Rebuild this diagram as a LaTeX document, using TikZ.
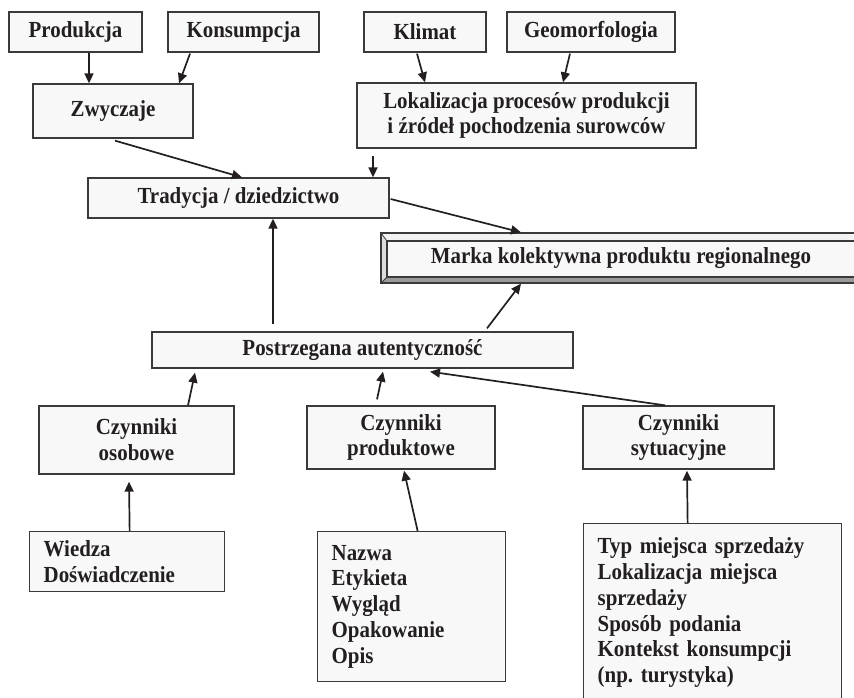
\documentclass[tikz,border=0pt]{standalone}
\usepackage{fontspec}
\setmainfont[FakeStretch=0.91]{Liberation Serif}
\usetikzlibrary{arrows.meta,calc}
\definecolor{ink}{HTML}{231F20}
\definecolor{boxline}{HTML}{3A3A3A}
\definecolor{boxfill}{HTML}{F8F8F8}
\definecolor{bevtop}{HTML}{F2F2F2}
\definecolor{bevside}{HTML}{DCDCDC}
\definecolor{bevdark}{HTML}{9A9A9A}
\frenchspacing
\tikzset{
  box/.style={draw=boxline, fill=boxfill, line width=1.3pt, inner sep=0pt, align=center, text=ink, font=\bfseries\fontsize{23}{25.8}\selectfont},
  lbox/.style={box, anchor=north west, align=left, inner xsep=14pt},
  arr/.style={-{Triangle[length=10pt,width=9pt]}, line width=1.7pt, draw=ink}
}
\begin{document}
\begin{tikzpicture}[x=1pt,y=-1pt]
    \useasboundingbox (0,0) rectangle (854,697);
    \filldraw[fill=bevside, draw=boxline, line width=1.1pt] (381,233) rectangle (861,283);
    \fill[bevtop] (381,233) -- (861,233) -- (855,241) -- (387,241) -- cycle;
    \fill[bevdark] (381,283) -- (861,283) -- (855,277) -- (387,277) -- cycle;
    \filldraw[fill=boxfill, draw=boxline, line width=1.1pt] (387,241) rectangle (855,277);
    \draw[boxline, line width=1.1pt] (381,233) rectangle (861,283);
    \draw[boxline, line width=0.8pt] (381,233) -- (387,241) (381,283) -- (387,277) (861,233) -- (855,241) (861,283) -- (855,277);
    \node[box, draw=none, fill=none, minimum width=480, minimum height=50] (marka) at (621,258) {Marka kolektywna produktu regionalnego};
    \node[box, minimum width=133, minimum height=40] (prod) at (75.5,32) {Produkcja};
    \node[box, minimum width=151, minimum height=40] (kons) at (243.5,32) {Konsumpcja};
    \node[box, minimum width=122, minimum height=40] (klim) at (425,32) {Klimat};
    \node[box, minimum width=168, minimum height=40] (geo) at (591,32) {Geomorfologia};
    \node[box, minimum width=160, minimum height=54] (zw) at (113,111) {Zwyczaje};
    \node[box, minimum width=339, minimum height=65] (lok) at (526.5,115.5) {Lokalizacja procesów produkcji\\i źródeł pochodzenia surowców};
    \node[box, minimum width=301, minimum height=40] (trad) at (238.5,198) {Tradycja / dziedzictwo};
    \node[box, minimum width=421, minimum height=36] (post) at (362.5,350) {Postrzegana autentyczność};
    \node[box, minimum width=195, minimum height=68] (oso) at (136.5,440) {Czynniki\\osobowe};
    \node[box, minimum width=188, minimum height=63] (prd) at (401,437.5) {Czynniki\\produktowe};
    \node[box, minimum width=191, minimum height=63] (syt) at (678.5,437.5) {Czynniki\\sytuacyjne};
    \node[lbox, text width=167pt, minimum height=60] (wie) at (29,531) {Wiedza\\Doświadczenie};
    \node[lbox, text width=160pt, minimum height=150] (naz) at (317,531) {Nazwa\\Etykieta\\Wygląd\\Opakowanie\\Opis};
    \node[lbox, text width=230pt, inner ysep=14pt] (typ) at (583,523) {Typ miejsca sprzedaży\\Lokalizacja miejsca\\sprzedaży\\Sposób podania\\Kontekst konsumpcji\\(np. turystyka)};
    \draw[arr] ($(prod.south)+(13.5,0)$) -- ($(zw.north)+(-24,0)$);
    \draw[arr] ($(kons.south)+(-53.5,1)$) -- ($(zw.north)+(66,0)$);
    \draw[arr] ($(klim.south)+(-8,1)$) -- ($(lok.north)+(-101.5,0)$);
    \draw[arr] ($(geo.south)+(-21,1)$) -- ($(lok.north)+(36.5,0)$);
    \draw[arr] ($(zw.south)+(2,2)$) -- ($(trad.north)+(3.5,0)$);
    \draw[arr] ($(lok.south)+(-153.5,7)$) -- ($(trad.north)+(134.5,0)$);
    \draw[arr] ($(trad.east)+(1,1)$) -- ($(marka.north)+(-100,0)$);
    \draw[arr] ($(post.north)+(-89.5,-7)$) -- ($(trad.south)+(34.5,0)$);
    \draw[arr] ($(post.north)+(124.5,-3)$) -- ($(marka.south)+(-100,0)$);
    \draw[arr] ($(oso.north)+(51.5,0)$) -- ($(post.south)+(-167.5,4)$);
    \draw[arr] ($(prd.north)+(-24,-6)$) -- ($(post.south)+(20.5,3)$);
    \draw[arr] ($(syt.north)+(-13.5,0)$) -- ($(post.south)+(67.5,3)$);
    \draw[arr] ($(wie.north)+(2.5,0)$) -- ($(oso.south)+(-7.5,7)$);
    \draw[arr] ($(naz.north)+(6,0)$) -- ($(prd.south)+(3,1)$);
    \draw[arr] ($(typ.north)+(-25,0)$) -- ($(syt.south)+(8.5,1)$);
\end{tikzpicture}
\end{document}
